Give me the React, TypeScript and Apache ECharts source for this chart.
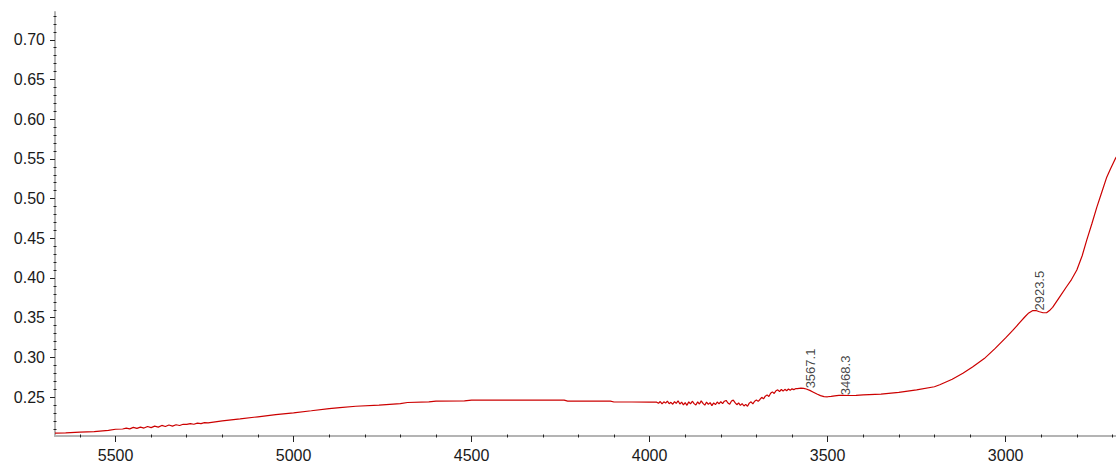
import React, { useEffect, useRef } from "react";
import * as echarts from "echarts";

// Wavenumber (cm-1), descending as recorded
const wavenumbers = [
  5670, 5640, 5600, 5560, 5520, 5500, 5480, 5470, 5460, 5450, 5440, 5430, 5420, 5410, 5400,
  5390, 5380, 5370, 5360, 5350, 5340, 5330, 5320, 5310, 5300, 5290, 5280, 5270, 5260, 5250,
  5240, 5220, 5200, 5150, 5100, 5050, 5000, 4950, 4900, 4870, 4825, 4760, 4700, 4680, 4620,
  4600, 4520, 4500, 4400, 4300, 4240, 4230, 4150, 4110, 4100, 4050, 4000,
  3980, 3975, 3970, 3965, 3960, 3955, 3950, 3945, 3940, 3935, 3930, 3925, 3920, 3915, 3910,
  3905, 3900, 3895, 3890, 3885, 3880, 3875, 3870, 3865, 3860, 3855, 3850, 3845, 3840, 3835,
  3830, 3825, 3820, 3815, 3810, 3805, 3800, 3795, 3790, 3785, 3780, 3775, 3770, 3765, 3760,
  3755, 3750, 3745, 3740, 3735, 3730, 3725, 3720, 3715, 3710, 3705, 3700, 3695, 3690, 3685,
  3680, 3675, 3670, 3665, 3660, 3655, 3650, 3645, 3640, 3635, 3630, 3625, 3620, 3615, 3610,
  3605, 3600, 3595, 3590, 3585, 3580, 3575, 3567.1, 3560, 3550, 3540, 3530, 3520, 3510, 3500,
  3490, 3480, 3468.3, 3460, 3440, 3420, 3400, 3350, 3300, 3250, 3200, 3185, 3150, 3120, 3093,
  3060, 3030, 3000, 2980, 2960, 2945, 2935, 2923.5, 2915, 2905, 2895, 2885, 2875, 2868, 2850,
  2829, 2815, 2800, 2785, 2772, 2758, 2744, 2730, 2716, 2705, 2691, 2688,
];

// Absorbance
const absorbance = [
  0.2045, 0.205, 0.2058, 0.2066, 0.208, 0.2095, 0.2098, 0.211, 0.2100, 0.2118, 0.2106, 0.2122, 0.2110, 0.2130, 0.2116,
  0.2135, 0.2122, 0.2143, 0.2129, 0.2148, 0.2135, 0.2152, 0.2142, 0.2158, 0.2156, 0.2165, 0.2158, 0.2172, 0.2166, 0.2178,
  0.2176, 0.2188, 0.22, 0.2225, 0.2252, 0.2278, 0.2302, 0.2328, 0.2355, 0.2368, 0.2385, 0.24, 0.2418, 0.2432, 0.244,
  0.245, 0.2452, 0.2462, 0.2462, 0.2462, 0.2462, 0.245, 0.245, 0.245, 0.2438, 0.2438, 0.2436,
  0.2436, 0.2422, 0.2444, 0.2414, 0.2440, 0.2424, 0.2450, 0.2416, 0.2434, 0.2410, 0.2442, 0.2420, 0.2454, 0.2412, 0.2436,
  0.2402, 0.2430, 0.2396, 0.2440, 0.2414, 0.2448, 0.2418, 0.2400, 0.2440, 0.2412, 0.2452, 0.2420, 0.2398, 0.2436, 0.2408,
  0.2430, 0.2392, 0.2428, 0.2406, 0.2438, 0.2414, 0.2444, 0.2418, 0.2448, 0.2458, 0.2426, 0.2410, 0.2450, 0.2462, 0.2430,
  0.2404, 0.2426, 0.2396, 0.2418, 0.2388, 0.2408, 0.2384, 0.2424, 0.2440, 0.2414, 0.2448, 0.2462, 0.2446, 0.2470, 0.2498,
  0.2478, 0.2512, 0.2528, 0.2508, 0.2548, 0.2566, 0.2546, 0.2580, 0.2592, 0.2568, 0.2596, 0.2576, 0.2598, 0.2580, 0.2602,
  0.2586, 0.2604, 0.2594, 0.2606, 0.2606, 0.2610, 0.2612, 0.261, 0.2602, 0.2585, 0.2562, 0.2538, 0.2518, 0.2506, 0.2504,
  0.2508, 0.2515, 0.2522, 0.2522, 0.252, 0.2522, 0.2528, 0.2538, 0.256, 0.2592, 0.263, 0.2655, 0.2725, 0.28, 0.288,
  0.2985, 0.311, 0.3245, 0.334, 0.344, 0.3515, 0.356, 0.359, 0.359, 0.3575, 0.3562, 0.3562, 0.3598, 0.363, 0.375,
  0.389, 0.398, 0.41, 0.428, 0.448, 0.468, 0.489, 0.508, 0.527, 0.538, 0.551, 0.553,
];

// Peak annotations
const peakWavenumbers = [3567.1, 3468.3, 2923.5];
const peakAbsorbance = [0.261, 0.2522, 0.359];

// Axis ticks
const xMajorTicks = [3000, 3500, 4000, 4500, 5000, 5500];
const xMinorTicks = [
  2700, 2800, 2900, 3100, 3200, 3300, 3400, 3600, 3700, 3800, 3900, 4100, 4200, 4300, 4400,
  4600, 4700, 4800, 4900, 5100, 5200, 5300, 5400, 5600,
];
const yMajorTicks = [0.25, 0.3, 0.35, 0.4, 0.45, 0.5, 0.55, 0.6, 0.65, 0.7];
const yMinorTicks = [
  0.21, 0.22, 0.23, 0.24, 0.26, 0.27, 0.28, 0.29, 0.31, 0.32, 0.33, 0.34, 0.36, 0.37, 0.38, 0.39,
  0.41, 0.42, 0.43, 0.44, 0.46, 0.47, 0.48, 0.49, 0.51, 0.52, 0.53, 0.54, 0.56, 0.57, 0.58, 0.59,
  0.61, 0.62, 0.63, 0.64, 0.66, 0.67, 0.68, 0.69, 0.71, 0.72, 0.73,
];

const X_MIN = 2690;
const X_MAX = 5670;
const Y_MIN = 0.201;
const Y_MAX = 0.735;

const FONT = "'Liberation Sans', Arial, sans-serif";

export default function App() {
  const ref = useRef<HTMLDivElement>(null);

  useEffect(() => {
    if (!ref.current) return;
    const chart = echarts.init(ref.current, undefined, { renderer: "svg" });
    const lineData = wavenumbers.map((w, i) => [w, absorbance[i]]);
    const peakData = peakWavenumbers.map((w, i) => ({
      value: [w, peakAbsorbance[i]],
      name: String(w),
    }));

    const baseX = {
      type: "value" as const,
      min: X_MIN,
      max: X_MAX,
      inverse: true,
      position: "bottom" as const,
      splitLine: { show: false },
    };
    const baseY = {
      type: "value" as const,
      min: Y_MIN,
      max: Y_MAX,
      position: "left" as const,
      splitLine: { show: false },
    };

    chart.setOption({
      animation: false,
      backgroundColor: "#ffffff",
      grid: { left: 55, right: 0, top: 12, bottom: 28, containLabel: false },
      xAxis: [
        {
          ...baseX,
          axisLine: { show: true, lineStyle: { color: "#b4b4b4", width: 2 } },
          axisTick: {
            show: true,
            customValues: xMajorTicks,
            length: 6,
            lineStyle: { color: "#222", width: 1 },
          },
          axisLabel: {
            show: true,
            customValues: xMajorTicks,
            margin: 11,
            color: "#1a1a1a",
            fontSize: 16,
            fontFamily: FONT,
            formatter: (v: number) => String(v),
          },
        },
        {
          ...baseX,
          offset: -1.5,
          axisLine: { show: false },
          axisTick: {
            show: true,
            customValues: xMinorTicks,
            length: 3,
            lineStyle: { color: "#222", width: 1 },
          },
          axisLabel: { show: false },
        },
      ],
      yAxis: [
        {
          ...baseY,
          axisLine: { show: true, lineStyle: { color: "#b4b4b4", width: 2 } },
          axisTick: {
            show: true,
            customValues: yMajorTicks,
            length: 5,
            lineStyle: { color: "#222", width: 1 },
          },
          axisLabel: {
            show: true,
            customValues: yMajorTicks,
            margin: 10,
            color: "#1a1a1a",
            fontSize: 16,
            fontFamily: FONT,
            formatter: (v: number) => v.toFixed(2),
          },
        },
        {
          ...baseY,
          offset: -1.5,
          axisLine: { show: false },
          axisTick: {
            show: true,
            customValues: yMinorTicks,
            length: 3,
            lineStyle: { color: "#222", width: 1 },
          },
          axisLabel: { show: false },
        },
      ],
      series: [
        {
          type: "line",
          xAxisIndex: 0,
          yAxisIndex: 0,
          data: lineData,
          showSymbol: false,
          symbol: "none",
          lineStyle: { color: "#cc0000", width: 1.2 },
          clip: true,
        },
        {
          type: "scatter",
          xAxisIndex: 0,
          yAxisIndex: 0,
          data: peakData,
          symbol: "circle",
          symbolSize: 2,
          itemStyle: { color: "rgba(0,0,0,0)" },
          label: {
            show: true,
            formatter: "{b}",
            position: [8, 1],
            rotate: 90,
            align: "left",
            verticalAlign: "middle",
            color: "#111",
            fontSize: 13,
            fontFamily: FONT,
          },
        },
      ],
    });

    return () => chart.dispose();
  }, []);

  return (
    <div
      ref={ref}
      style={{ position: "fixed", left: 0, top: 0, width: 1116, height: 464, background: "#fff" }}
    />
  );
}
